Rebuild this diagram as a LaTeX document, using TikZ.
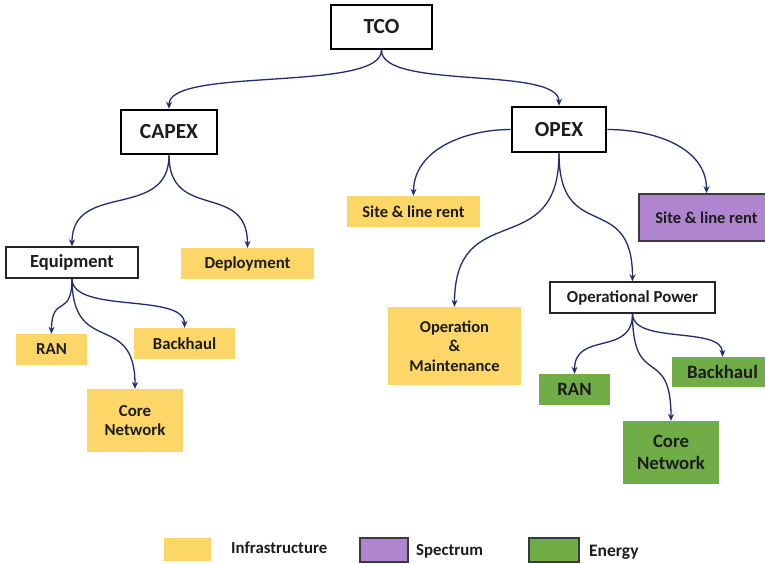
\documentclass[tikz,border=0pt]{standalone}
\usepackage{fontspec}
\setmainfont{Carlito}
\usetikzlibrary{calc,arrows.meta}
\definecolor{infra}{HTML}{FCD666}
\definecolor{spec}{HTML}{B085D0}
\definecolor{energy}{HTML}{70AD47}
\definecolor{link}{HTML}{1F2D70}
\definecolor{ink}{HTML}{1C1C1C}
\definecolor{edge}{HTML}{3A3A3A}
\tikzset{
  base/.style={inner sep=0pt, align=center, text=ink, font=\bfseries\fontsize{16.8}{19.3}\selectfont},
  topbox/.style={base, draw=black, line width=2.6pt, fill=white, font=\bfseries\fontsize{21.5}{26}\selectfont},
  subbox/.style={base, draw=black!85, line width=1.4pt, fill=white},
  infrabox/.style={base, fill=infra},
  specbox/.style={base, fill=spec, draw=edge, line width=1.8pt},
  energybox/.style={base, fill=energy, font=\bfseries\fontsize{18.8}{22}\selectfont},
  legtext/.style={base, anchor=west},
  conn/.style={draw=link, line width=1.3pt, -{Stealth[length=7pt,width=6pt]}},
  % S-shaped connector leaving and entering vertically
  sconn/.style={to path={.. controls ($(\tikztostart)!0.72!(\tikztostart|-\tikztotarget)$)
      and ($(\tikztotarget)!0.72!(\tikztotarget|-\tikztostart)$) .. (\tikztotarget)}}
}
\begin{document}
\begin{tikzpicture}[x=1pt,y=-1pt]
\useasboundingbox (0,0) rectangle (765,564);

% top levels
\node[topbox, minimum width=101, minimum height=44] (tco) at (381.5,27) {TCO};
\node[topbox, minimum width=96, minimum height=44] (capex) at (169,132) {CAPEX};
\node[topbox, minimum width=94, minimum height=45] (opex) at (559,129.5) {OPEX};

% CAPEX branch
\node[subbox, minimum width=132, minimum height=31, font=\bfseries\fontsize{18.5}{22}\selectfont] (equip) at (72,262.5) {Equipment};
\node[infrabox, minimum width=133, minimum height=31] (deploy) at (247.5,263.5) {Deployment};
\node[infrabox, minimum width=71, minimum height=31] (ranL) at (51.5,349.5) {RAN};
\node[infrabox, minimum width=101, minimum height=31] (bhL) at (184.5,343.5) {Backhaul};
\node[infrabox, minimum width=96, minimum height=63] (coreL) at (135,420.5) {Core\\Network};

% OPEX branch
\node[infrabox, minimum width=133, minimum height=31, font=\bfseries\fontsize{16.5}{19}\selectfont] (siteY) at (413.5,211.5) {Site \& line rent};
\node[specbox, minimum width=135, minimum height=47, font=\bfseries\fontsize{16.5}{19}\selectfont] (siteP) at (706.5,217.5) {Site \& line rent};
\node[infrabox, minimum width=133, minimum height=78, font=\bfseries\fontsize{16.5}{19.3}\selectfont] (om) at (454.5,346) {Operation\\\&\\Maintenance};
\node[subbox, minimum width=165, minimum height=31] (power) at (632.5,297.5) {Operational Power};
\node[energybox, minimum width=71, minimum height=31] (ranG) at (574.5,389.5) {RAN};
\node[energybox, minimum width=101, minimum height=30] (bhG) at (722.5,372) {Backhaul};
\node[energybox, minimum width=96, minimum height=63] (coreG) at (671,452.5) {Core\\Network};

% legend
\node[fill=infra, minimum width=47, minimum height=23, inner sep=0pt] (legI) at (187.5,549.5) {};
\node[legtext] (legIt) at (231,548) {Infrastructure};
\node[fill=spec, draw=edge, line width=1.5pt, minimum width=48, minimum height=24, inner sep=0pt] (legS) at (384,550) {};
\node[legtext] (legSt) at (416,551) {Spectrum};
\node[fill=energy, draw=edge, line width=1.5pt, minimum width=50, minimum height=24, inner sep=0pt] (legE) at (554,550) {};
\node[legtext, font=\bfseries\fontsize{17.5}{20}\selectfont] (legEt) at (589,552) {Energy};

% connectors
\draw[conn] (tco.south) to[sconn] (capex.north);
\draw[conn] (tco.south) to[sconn] (opex.north);
\draw[conn] (capex.south) to[sconn] (equip.north);
\draw[conn] (capex.south) to[sconn] (deploy.north);
\draw[conn] (equip.south) to[sconn] (ranL.north);
\draw[conn] (equip.south) to[sconn] (coreL.north);
\draw[conn] (equip.south) to[sconn] (bhL.north);
\draw[conn] (opex.west) to[out=180,in=90] (siteY.north);
\draw[conn] (opex.east) to[out=0,in=90] (siteP.north);
\draw[conn] (opex.south) to[sconn] (om.north);
\draw[conn] (opex.south) to[sconn] (power.north);
\draw[conn] (power.south) to[sconn] (ranG.north);
\draw[conn] (power.south) to[sconn] (coreG.north);
\draw[conn] (power.south) to[sconn] (bhG.north);
\end{tikzpicture}
\end{document}
